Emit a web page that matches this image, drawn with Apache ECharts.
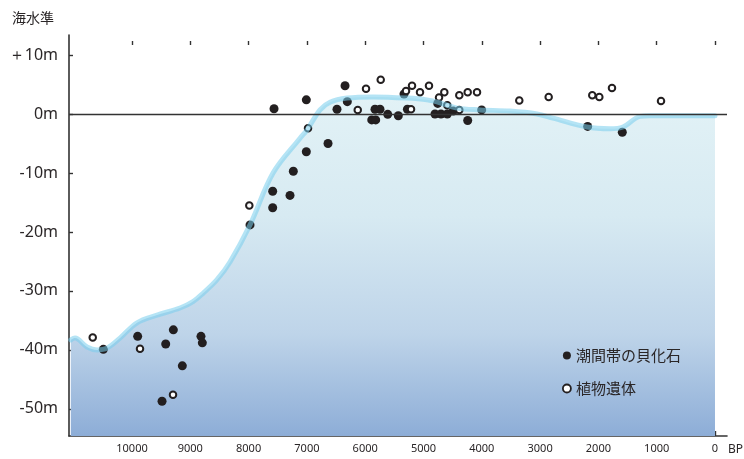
<!DOCTYPE html>
<html>
<head>
<meta charset="utf-8">
<script src="https://cdn.jsdelivr.net/npm/echarts@6/dist/echarts.min.js"></script>
<style>
  html, body { margin: 0; padding: 0; background: #fff; }
  #chart { width: 744px; height: 459px; }
</style>
</head>
<body>
<div id="chart"></div>
<script>
// Relative sea-level curve (years BP, metres)
const curveBP    = [11050, 10978, 10772, 10600, 10429, 10206, 9914, 9571, 9177, 8954, 8782, 8542, 8319, 7976, 7581, 7118, 6998, 6775, 6604, 6312, 5866, 5283, 4940, 4717, 4425, 4031, 3516, 3053, 2779, 2196, 1801, 1578, 1286, 1115, 0];
const curveLevel = [-38.3, -38.0, -39.5, -40.0, -39.7, -38.0, -35.4, -34.1, -32.9, -31.8, -30.4, -28.1, -25.1, -18.8, -10.0, -4.1, -2.7, 0.7, 2.0, 2.7, 2.9, 2.7, 2.4, 1.9, 1.0, 0.7, 0.5, 0.0, -0.7, -2.2, -2.5, -2.2, -0.4, -0.3, -0.3];

// Intertidal shell fossils
const shellBP    = [10492, 9903, 9422, 9291, 9137, 9485, 8817, 8794, 7976, 7587, 7587, 7290, 7233, 7010, 6638, 7564, 7010, 6346, 6307, 6484, 5832, 5746, 5888, 5820, 5614, 5432, 5334, 5276, 4756, 4803, 4700, 4592, 4490, 4242, 4002, 2184, 1590];
const shellLevel = [-39.9, -37.7, -39.0, -36.6, -42.7, -48.7, -37.7, -38.8, -18.8, -13.1, -15.9, -13.8, -9.7, -6.4, -5.0, 0.9, 2.4, 4.8, 2.1, 0.8, 0.8, 0.8, -1.0, -1.0, -0.05, -0.3, 3.4, 0.8, 1.8, 0.0, 0.0, 0.0, 0.5, -1.1, 0.7, -2.1, -3.1];

// Plant remains
const plantBP    = [10674, 9863, 9297, 7988, 6981, 6128, 5986, 5734, 5300, 5197, 5214, 5060, 4906, 4734, 4643, 4592, 4386, 4386, 4242, 4082, 3357, 2853, 2105, 1984, 1767, 926];
const plantLevel = [-37.9, -39.8, -47.6, -15.5, -2.4, 0.7, 4.3, 5.8, 3.9, 4.8, 0.8, 3.7, 4.8, 2.8, 3.7, 1.5, 3.2, 0.7, 3.7, 3.7, 2.3, 2.9, 3.2, 2.9, 4.4, 2.2];

// Axis ticks
const xTicks = [0, 1000, 2000, 3000, 4000, 5000, 6000, 7000, 8000, 9000, 10000];
const yTicks = [-50, -40, -30, -20, -10, 0, 10];

const pairs = (xs, ys) => xs.map((x, i) => [x, ys[i]]);
const curve = pairs(curveBP, curveLevel);

const latin = '"Noto Sans", "Open Sans", sans-serif';
const cjk = '"Noto Sans CJK JP", "Noto Sans", sans-serif';
const ink = '#2a2627';

const chart = echarts.init(document.getElementById('chart'), null, { renderer: 'canvas' });

chart.setOption({
  animation: false,
  grid: { left: 69, right: 17, top: 35, bottom: 23, containLabel: false },
  xAxis: [
    {
      type: 'value',
      inverse: true,
      min: -206,
      max: 11081,
      splitLine: { show: false },
      axisLine: { show: true, onZero: false, lineStyle: { color: '#333', width: 1.6 } },
      axisTick: { show: true, inside: true, length: 5, customValues: xTicks, lineStyle: { color: '#333', width: 1.4 } },
      axisLabel: { customValues: xTicks, margin: 7, color: ink, fontSize: 11, fontFamily: latin, formatter: v => String(v) }
    },
    {
      type: 'value',
      position: 'top',
      inverse: true,
      min: -206,
      max: 11081,
      offset: -10,
      splitLine: { show: false },
      axisLine: { show: false, onZero: false },
      axisTick: { show: true, inside: false, length: 4, customValues: xTicks, lineStyle: { color: '#333', width: 1.4 } },
      axisLabel: { show: false }
    }
  ],
  yAxis: {
    type: 'value',
    min: -54.6,
    max: 13.4,
    splitLine: { show: false },
    axisLine: { show: true, onZero: false, lineStyle: { color: '#333', width: 1.6 } },
    axisTick: { show: true, inside: true, length: 4, customValues: yTicks, lineStyle: { color: '#333', width: 1.4 } },
    axisLabel: {
      customValues: yTicks, margin: 11, color: ink, fontSize: 16, fontFamily: latin,
      formatter: v => (v > 0 ? '＋' + v + 'm' : v + 'm')
    }
  },
  legend: {
    orient: 'vertical',
    left: 557,
    top: 343,
    itemWidth: 8,
    itemHeight: 8,
    itemGap: 18,
    itemTextGap: 10,
    textStyle: { color: ink, fontSize: 15, fontFamily: cjk },
    data: [
      { name: '潮間帯の貝化石', icon: 'circle' },
      { name: '植物遺体', icon: 'circle', itemStyle: { borderWidth: 1.8 } }
    ]
  },
  graphic: [
    { type: 'text', left: 12, top: 11, style: { text: '海水準', fill: ink, font: '14px ' + cjk } },
    { type: 'text', left: 728, top: 444, style: { text: 'BP', fill: ink, font: '12px ' + latin } }
  ],
  series: [
    {
      name: 'area',
      type: 'line',
      data: curve,
      smooth: 0.35,
      showSymbol: false,
      silent: true,
      z: 1,
      lineStyle: { width: 0 },
      areaStyle: {
        origin: 'start',
        opacity: 1,
        color: new echarts.graphic.LinearGradient(0, 0, 0, 1, [
          { offset: 0, color: '#e2f2f6' },
          { offset: 0.35, color: '#d7eaf2' },
          { offset: 0.7, color: '#bed4e9' },
          { offset: 1, color: '#8dadd7' }
        ])
      },
      markLine: {
        silent: true,
        symbol: 'none',
        label: { show: false },
        lineStyle: { color: '#333', width: 1.4, type: 'solid' },
        data: [{ yAxis: 0 }]
      }
    },
    {
      name: '潮間帯の貝化石',
      type: 'scatter',
      data: pairs(shellBP, shellLevel),
      symbol: 'circle',
      symbolSize: 9,
      z: 2,
      itemStyle: { color: '#231f20', opacity: 1 }
    },
    {
      name: '植物遺体',
      type: 'scatter',
      data: pairs(plantBP, plantLevel),
      symbol: 'circle',
      symbolSize: 6.5,
      z: 2,
      itemStyle: { color: '#ffffff', borderColor: '#231f20', borderWidth: 2, opacity: 1 }
    },
    {
      name: 'curve',
      type: 'line',
      data: curve,
      smooth: 0.35,
      showSymbol: false,
      silent: true,
      z: 3,
      lineStyle: { width: 5, color: 'rgba(121,206,237,0.55)', cap: 'round', join: 'round' }
    }
  ]
});
</script>
</body>
</html>
